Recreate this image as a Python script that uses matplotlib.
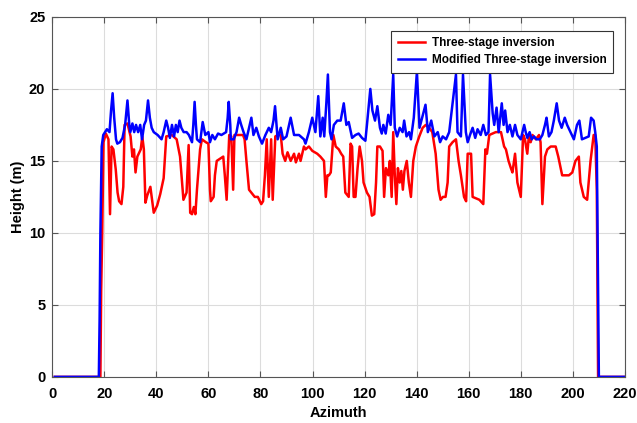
"""Height profile along azimuth: three-stage vs modified three-stage inversion."""

import matplotlib
matplotlib.use('Agg')
import matplotlib.pyplot as plt

plt.rcParams.update({
    'font.family': 'Liberation Sans', 'font.weight': 'bold',
    'font.size': 10.5, 'axes.labelweight': 'bold',
})

# values
red_x = [1, 18.5, 18.8, 19.2, 19.7, 20.6, 21.6, 22.2, 22.8, 23.5, 24.4, 25.1,
         25.7, 26.6, 27.3, 27.8, 28.9, 30.1, 30.8, 31.4, 32.0, 32.7, 34.0,
         34.6, 35.2, 35.8, 36.5, 37.7, 39.0, 40.3, 41.5, 42.8, 43.8, 45.9,
         47.8, 49.1, 50.4, 51.6, 52.4, 53.0, 53.7, 54.4, 55.0, 55.6, 56.8,
         57.5, 59.0, 60.0, 60.6, 60.9, 62.0, 62.5, 63.2, 65.7, 66.3, 67.0,
         68.0, 68.8, 69.5, 70.0, 73.3, 73.9, 74.6, 75.6, 76.5, 77.8, 79.0,
         80.3, 81.0, 81.7, 82.4, 83.2, 84.1, 84.7, 85.7, 86.6, 87.8, 88.5,
         89.5, 90.4, 91.6, 92.9, 93.6, 94.8, 95.4, 96.7, 97.3, 98.6, 99.9,
         101.8, 103.0, 104.4, 105.1, 105.7, 106.3, 107.0, 108.0, 108.9,
         110.1, 111.0, 111.8, 112.6, 113.9, 114.6, 115.2, 115.8, 116.5,
         117.3, 118.1, 119.0, 119.6, 120.9, 121.9, 122.8, 123.7, 124.4,
         124.9, 125.9, 126.9, 127.5, 128.2, 129.1, 129.7, 130.4, 131.0,
         131.6, 132.2, 132.8, 133.5, 134.1, 134.7, 135.3, 136.2, 137.0,
         137.8, 138.7, 139.7, 141.0, 142.3, 143.5, 144.8, 146.0, 147.3,
         148.4, 149.2, 150.1, 151.1, 151.9, 152.5, 153.8, 155.1, 156.1,
         157.0, 158.2, 159.0, 159.6, 160.9, 161.5, 164.1, 165.6, 166.4,
         167.0, 167.9, 170.4, 172.4, 173.6, 174.3, 175.3, 176.2, 176.8,
         177.8, 178.7, 180.0, 180.9, 181.6, 182.5, 183.1, 183.8, 184.5,
         185.8, 187.0, 187.6, 188.3, 189.3, 190.2, 191.5, 193.4, 194.4,
         195.3, 195.9, 198.5, 199.8, 201.0, 202.3, 202.9, 204.2, 205.5,
         206.8, 208.0, 208.6, 209.2, 209.7, 220]
red_y = [0, 0, 6, 10, 16.3, 16.9, 16.5, 11.3, 16.0, 15.8, 14.4, 12.8,
         12.2, 12.0, 13.2, 17.5, 17.6, 16.7, 15.3, 15.8, 14.2, 15.3, 15.8,
         16.7, 15.8, 12.1, 12.6, 13.2, 11.4, 11.9, 12.7, 13.8, 16.7, 16.8,
         16.5, 15.3, 12.3, 12.8, 16.1, 11.4, 11.3, 11.8, 11.3, 13.0, 15.8,
         16.5, 16.3, 16.2, 13.0, 12.2, 12.5, 14.0, 15.0, 15.3, 14.0, 12.3,
         16.8, 16.7, 13.0, 16.8, 16.8, 16.5, 15.0, 13.0, 12.8, 12.5, 12.5,
         12.0, 12.2, 14.0, 16.5, 12.5, 16.5, 12.3, 16.7, 16.8, 16.8, 15.5,
         15.0, 15.6, 15.0, 15.5, 14.9, 15.5, 15.0, 16.0, 15.8, 16.0, 15.7,
         15.5, 15.3, 15.0, 12.5, 14.0, 14.0, 14.2, 16.8, 16.0,
         15.8, 15.5, 15.3, 12.8, 12.5, 16.2, 16.0, 12.5, 12.5,
         14.5, 16.0, 15.0, 13.5, 12.8, 12.5, 11.2, 11.3, 13.5,
         16.0, 16.0, 15.7, 12.5, 14.5, 14.0, 15.0, 12.5, 17.0,
         14.0, 12.0, 14.5, 13.5, 14.3, 13.0, 14.3, 15.0, 13.5,
         12.5, 15.0, 16.0, 16.7, 17.3, 17.5, 17.3, 17.0, 15.5,
         13.0, 12.3, 12.5, 12.5, 13.5, 16.0, 16.3, 16.5, 15.0,
         14.0, 12.5, 12.2, 15.5, 15.5, 12.5, 12.3, 12.0, 15.8,
         15.5, 16.8, 17.0, 17.0, 16.0, 15.8, 15.0, 14.5, 14.2,
         15.5, 13.5, 12.5, 16.8, 16.5, 15.5, 16.7, 16.3, 16.8,
         16.5, 16.8, 16.3, 12.0, 15.3, 15.8, 16.0, 16.0, 15.3,
         14.5, 14.0, 14.0, 14.2, 15.0, 15.3, 13.5, 12.5, 12.3,
         15.0, 16.8, 16.8, 13.0, 0, 0]

blue_x = [1, 17.9, 18.2, 18.5, 19.0, 19.6, 20.3, 21.0, 22.0, 22.6, 23.2, 23.8,
          24.5, 25.0, 26.0, 27.0, 28.0, 28.9, 29.6, 30.0, 30.8, 31.5, 32.2,
          33.0, 33.8, 34.5, 35.3, 36.0, 36.8, 37.5, 38.2, 39.0, 40.5, 42.0,
          42.8, 43.8, 44.5, 45.2, 46.0, 46.8, 47.5, 48.2, 48.9, 49.6, 50.5,
          51.6, 52.5, 53.7, 54.2, 54.7, 55.2, 55.6, 56.8, 57.8, 58.8, 60.0,
          60.6, 61.5, 62.5, 63.7, 65.0, 66.8, 67.4, 67.8, 68.4, 68.6, 69.7,
          70.8, 71.8, 72.6, 73.5, 74.6, 75.6, 76.5, 77.3, 78.4, 79.4, 80.6,
          81.9, 83.2, 84.1, 85.0, 85.6, 86.6, 87.8, 88.7, 90.0, 91.6, 92.9,
          94.8, 96.7, 97.3, 98.6, 99.9, 101.1, 102.2, 103.0, 103.9, 104.5,
          105.3, 105.9, 106.7, 107.3, 108.2, 109.5, 110.8, 112.0, 113.0,
          113.9, 115.2, 116.5, 117.7, 119.0, 120.3, 120.9, 122.2, 123.0,
          124.0, 124.9, 125.9, 126.6, 127.2, 128.1, 129.1, 130.0, 131.0,
          131.6, 132.5, 133.5, 134.6, 135.2, 136.1, 137.1, 137.8, 138.9,
          140.1, 141.1, 142.4, 143.4, 144.3, 145.6, 146.8, 148.1, 149.0,
          150.0, 151.3, 152.5, 153.8, 155.1, 155.7, 157.0, 157.8, 158.9,
          159.6, 160.5, 161.5, 162.5, 163.4, 164.6, 165.6, 166.6, 167.6,
          168.2, 169.2, 169.8, 170.7, 171.5, 172.7, 173.4, 174.0, 174.9,
          175.8, 176.8, 177.8, 178.7, 180.0, 181.3, 181.9, 182.5, 183.4,
          184.2, 185.1, 186.0, 187.3, 188.3, 189.3, 189.9, 190.8, 191.8,
          192.7, 193.8, 194.7, 195.7, 196.9, 197.8, 199.1, 200.4, 201.6,
          202.5, 203.5, 204.8, 206.1, 207.0, 208.0, 208.6, 209.2, 210.0, 220]
blue_y = [0, 0, 4, 10, 16.0, 16.8, 17.0, 17.2, 17.0, 18.5, 19.7, 18.0,
          16.5, 16.2, 16.3, 16.6, 17.5, 19.2, 17.5, 17.0, 17.6, 17.0, 17.5,
          17.0, 17.5, 16.5, 17.5, 17.8, 19.2, 18.0, 17.3, 17.0, 16.8, 16.5,
          17.0, 17.8, 17.3, 16.6, 17.5, 16.7, 17.5, 17.0, 17.8, 17.3, 17.0,
          17.0, 16.8, 16.3, 17.5, 19.1, 17.5, 16.5, 16.3, 17.7, 16.8, 17.0,
          16.3, 16.8, 16.5, 16.9, 16.8, 17.0, 18.0, 19.1, 17.5, 16.5, 16.5,
          17.0, 18.0, 17.5, 17.0, 16.5, 17.3, 18.0, 16.8, 17.3, 16.7, 16.2,
          16.8, 17.3, 17.0, 17.8, 18.8, 16.5, 17.3, 16.5, 16.7, 18.0, 16.8,
          16.8, 16.5, 16.2, 17.0, 18.0, 17.0, 19.5, 16.7, 18.0, 16.7,
          19.0, 21.0, 17.0, 16.5, 17.5, 17.8, 17.8, 19.0, 17.5,
          17.7, 16.6, 16.8, 16.9, 16.6, 16.4, 17.5, 20.0, 18.5,
          17.8, 18.8, 17.3, 16.9, 17.5, 16.9, 18.2, 17.5, 21.0,
          17.3, 16.7, 17.3, 17.0, 17.8, 16.7, 17.0, 16.5, 18.0,
          21.2, 17.3, 18.2, 18.9, 17.0, 17.8, 16.7, 17.0, 16.3,
          16.7, 16.5, 17.0, 19.0, 21.0, 17.0, 16.7, 21.0, 17.0,
          16.3, 16.8, 17.3, 16.6, 17.2, 16.8, 17.5, 16.8, 17.0,
          21.0, 18.3, 17.5, 18.7, 17.0, 19.0, 17.5, 18.5, 17.0,
          17.5, 16.7, 17.5, 16.8, 16.5, 17.5, 17.0, 16.6, 17.0,
          16.5, 16.7, 16.5, 16.5, 16.8, 17.5, 18.0, 16.7, 17.0,
          17.8, 19.0, 17.8, 17.3, 18.0, 17.5, 17.0, 16.5, 17.5,
          17.8, 16.5, 16.6, 16.7, 18.0, 17.8, 17.0, 16.0, 0, 0]

fig = plt.figure(figsize=(6.37, 4.23), dpi=100)
ax = fig.add_axes([0.082, 0.109, 0.899, 0.851])

ax.plot(red_x, red_y, color='#ff0000', linewidth=1.8, label='Three-stage inversion')
ax.plot(blue_x, blue_y, color='#0000ff', linewidth=1.8,
        label='Modified Three-stage inversion')

ax.set_xlim(0, 220)
ax.set_ylim(0, 25)
ax.set_xticks(range(0, 221, 20))
ax.set_yticks(range(0, 26, 5))
ax.grid(True, color='#dcdcdc', linewidth=0.8)
ax.set_axisbelow(True)
ax.tick_params(direction='in', top=True, right=True, length=4,
               colors='#555555', labelcolor='black', labelsize=10.5)
ax.tick_params(axis='x', pad=7)
ax.tick_params(axis='y', pad=5)
for s in ax.spines.values():
    s.set_color('#555555')

ax.set_xlabel('Azimuth', labelpad=4)
ax.set_ylabel('Height (m)', labelpad=3)

leg = ax.legend(loc='upper right', bbox_to_anchor=(0.98, 0.962), fontsize=8.5,
                fancybox=False, framealpha=1, borderpad=0.55, handlelength=2.3,
                handletextpad=0.6, labelspacing=0.45, borderaxespad=0)
leg.get_frame().set_edgecolor('#333333')
leg.get_frame().set_linewidth(0.8)

fig.savefig('out.png', dpi=100)
plt.close()
